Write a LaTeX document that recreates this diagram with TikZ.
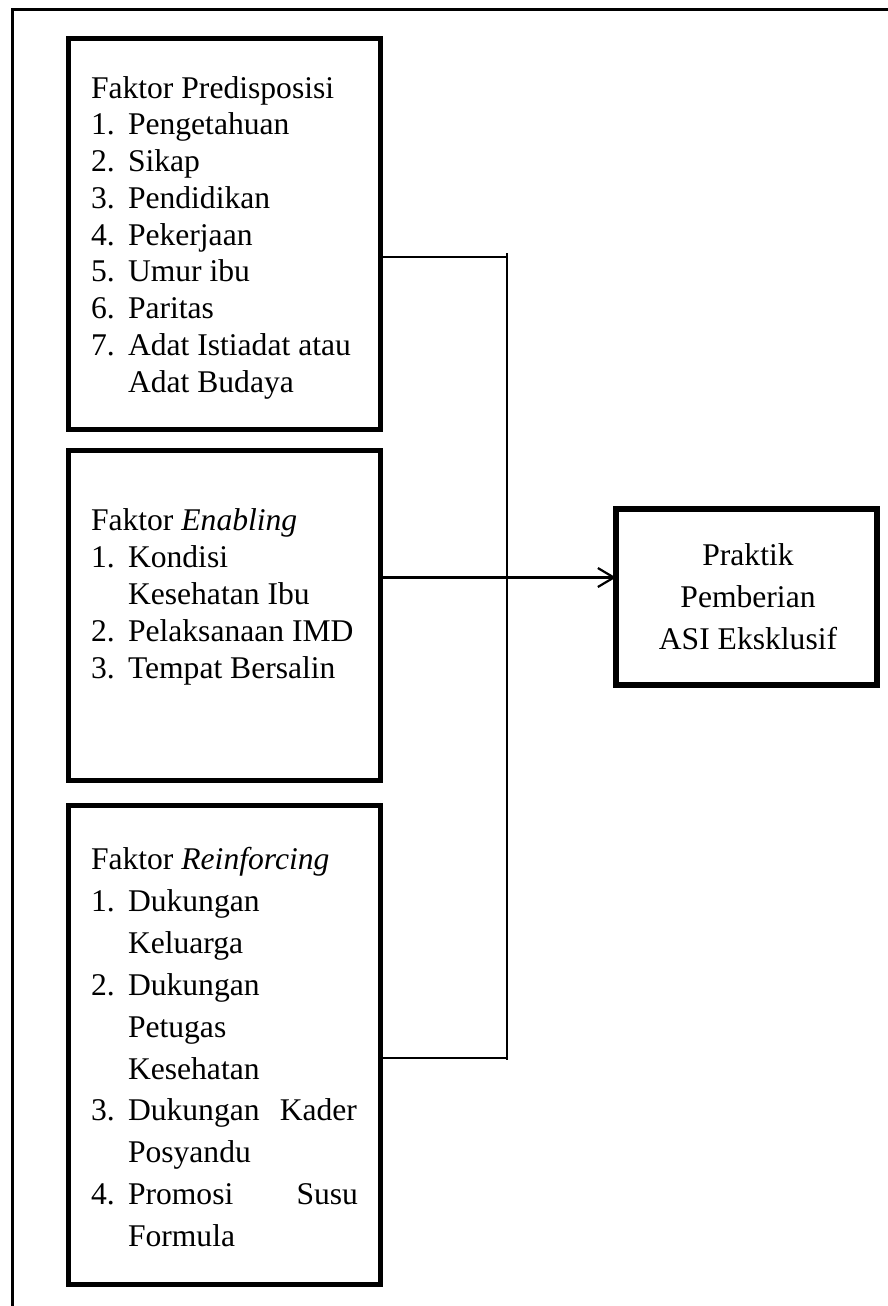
\documentclass[tikz,border=0pt]{standalone}
\usepackage{fontspec}
\setmainfont{Liberation Serif}
\usetikzlibrary{arrows.meta}
\newcommand\diagfont{\fontsize{31.6}{37}\selectfont}
\tikzset{
  box/.style={draw, line width=5.5pt, inner sep=0pt, outer sep=0pt},
  txt/.style={anchor=base west, inner sep=0pt, outer sep=0pt, font=\diagfont},
  ctxt/.style={anchor=base, inner sep=0pt, outer sep=0pt, font=\diagfont},
  conn/.style={line width=2.2pt},
  arr/.style={line width=2.2pt, -{Straight Barb[length=16pt,width=19pt]}}
}
\begin{document}
\begin{tikzpicture}[x=1pt,y=-1pt]
\useasboundingbox (0,0) rectangle (888,1306);
% outer frame (top and left only)
\draw[line width=3pt] (12.2,1306) -- (12.2,9.5) -- (888,9.5);
% boxes
\node[box, minimum width=312pt, minimum height=391pt] (b1) at (224.5,234) {};
\node[box, minimum width=312pt, minimum height=330pt] (b2) at (224.5,615.5) {};
\node[box, minimum width=312pt, minimum height=479pt] (b3) at (224.5,1045) {};
\node[box, line width=6pt, minimum width=261pt, minimum height=176pt] (t) at (746.5,597) {};
% box 1 text
\node[txt] (p0) at (91,98) {Faktor Predisposisi};
\node[txt] (p1n) at (91,134.75) {1.}; \node[txt] (p1) at (128,134.75) {Pengetahuan};
\node[txt] (p2n) at (91,171.5) {2.}; \node[txt] (p2) at (128,171.5) {Sikap};
\node[txt] (p3n) at (91,208.25) {3.}; \node[txt] (p3) at (128,208.25) {Pendidikan};
\node[txt] (p4n) at (91,245) {4.}; \node[txt] (p4) at (128,245) {Pekerjaan};
\node[txt] (p5n) at (91,281.75) {5.}; \node[txt] (p5) at (128,281.75) {Umur ibu};
\node[txt] (p6n) at (91,318.5) {6.}; \node[txt] (p6) at (128,318.5) {Paritas};
\node[txt] (p7n) at (91,355.25) {7.}; \node[txt] (p7) at (128,355.25) {Adat Istiadat atau};
\node[txt] (p8) at (128,392) {Adat Budaya};
% box 2 text
\node[txt] (e0) at (91,530) {Faktor \textit{Enabling}};
\node[txt] (e1n) at (91,567) {1.}; \node[txt] (e1) at (128,567) {Kondisi};
\node[txt] (e2) at (128,604) {Kesehatan Ibu};
\node[txt] (e3n) at (91,641) {2.}; \node[txt] (e3) at (128,641) {Pelaksanaan IMD};
\node[txt] (e4n) at (91,678) {3.}; \node[txt] (e4) at (128,678) {Tempat Bersalin};
% box 3 text
\node[txt] (r0) at (91,869) {Faktor \textit{Reinforcing}};
\node[txt] (r1n) at (91,911) {1.}; \node[txt] (r1) at (128,911) {Dukungan};
\node[txt] (r2) at (128,953) {Keluarga};
\node[txt] (r3n) at (91,995) {2.}; \node[txt] (r3) at (128,995) {Dukungan};
\node[txt] (r4) at (128,1037) {Petugas};
\node[txt] (r5) at (128,1079) {Kesehatan};
\node[txt] (r6n) at (91,1120) {3.}; \node[txt] (r6) at (128,1120) {\makebox[229pt][s]{Dukungan Kader}};
\node[txt] (r7) at (128,1162) {Posyandu};
\node[txt] (r8n) at (91,1204) {4.}; \node[txt] (r8) at (128,1204) {\makebox[230pt][s]{Promosi Susu}};
\node[txt] (r9) at (128,1246) {Formula};
% target text
\node[ctxt] (t1) at (748,565) {Praktik};
\node[ctxt] (t2) at (748,607) {Pemberian};
\node[ctxt] (t3) at (748,649) {ASI Eksklusif};
% connectors
\coordinate (jtop) at (507,253);
\coordinate (j1) at (507,257);
\coordinate (j3) at (507,1058);
\coordinate (jbot) at (507,1060);
\coordinate (ya) at (0,577.5);
\draw[conn] (b1.east |- j1) -- (j1);
\draw[conn] (jtop) -- (jbot);
\draw[conn] (b3.east |- j3) -- (j3);
\draw[arr] (b2.east |- ya) -- (t.west |- ya);
\end{tikzpicture}
\end{document}
